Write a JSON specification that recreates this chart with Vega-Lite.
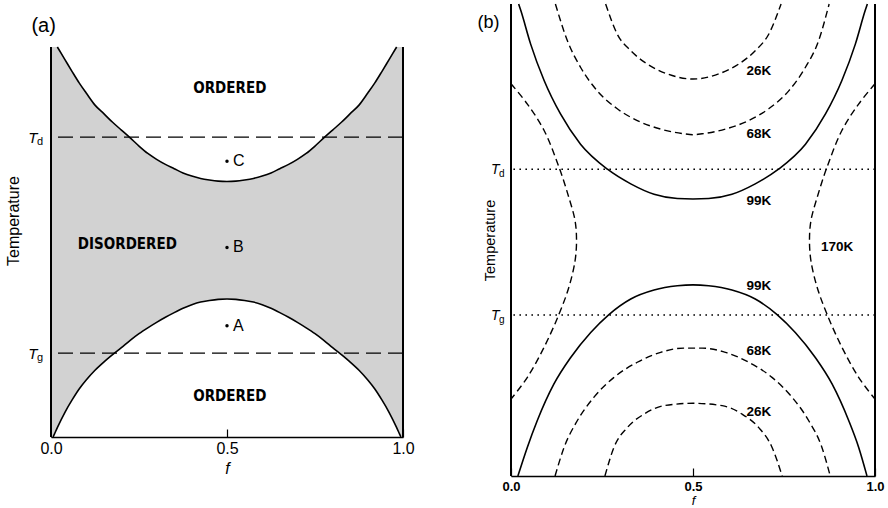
{
  "$schema": "https://vega.github.io/schema/vega-lite/v6.json",
  "padding": {"left": 5, "top": 0, "right": 0, "bottom": 0},
  "bounds": "flush",
  "spacing": 108,
  "config": {
    "view": {"stroke": null},
    "font": "Liberation Sans",
    "axis": {"labelFont": "Liberation Sans", "titleFont": "Liberation Sans", "labelColor": "#000", "titleColor": "#000", "domainColor": "#000", "tickColor": "#000", "grid": false, "titleFontWeight": "normal"}
  },
  "datasets": {
    "shadeA": [
      {"f":0,"lo":0,"hi":1},{"f":0.01,"lo":0.008,"hi":1},{"f":0.018,"lo":0.024,"hi":1},{"f":0.04,"lo":0.064,"hi":0.967},{"f":0.06,"lo":0.095,"hi":0.937},{"f":0.08,"lo":0.123,"hi":0.908},{"f":0.1,"lo":0.146,"hi":0.882},{"f":0.125,"lo":0.171,"hi":0.851},{"f":0.15,"lo":0.192,"hi":0.829},{"f":0.175,"lo":0.211,"hi":0.807},{"f":0.2,"lo":0.229,"hi":0.787},{"f":0.225,"lo":0.248,"hi":0.767},{"f":0.25,"lo":0.265,"hi":0.746},{"f":0.275,"lo":0.28,"hi":0.727},{"f":0.3,"lo":0.294,"hi":0.712},{"f":0.325,"lo":0.307,"hi":0.699},{"f":0.35,"lo":0.319,"hi":0.688},{"f":0.375,"lo":0.33,"hi":0.677},{"f":0.4,"lo":0.339,"hi":0.669},{"f":0.425,"lo":0.346,"hi":0.663},{"f":0.45,"lo":0.35,"hi":0.659},{"f":0.475,"lo":0.353,"hi":0.656},{"f":0.5,"lo":0.354,"hi":0.655},
      {"f":0.525,"lo":0.353,"hi":0.656},{"f":0.55,"lo":0.35,"hi":0.659},{"f":0.575,"lo":0.346,"hi":0.663},{"f":0.6,"lo":0.339,"hi":0.669},{"f":0.625,"lo":0.33,"hi":0.677},{"f":0.65,"lo":0.319,"hi":0.688},{"f":0.675,"lo":0.307,"hi":0.699},{"f":0.7,"lo":0.294,"hi":0.712},{"f":0.725,"lo":0.28,"hi":0.727},{"f":0.75,"lo":0.265,"hi":0.746},{"f":0.775,"lo":0.248,"hi":0.767},{"f":0.8,"lo":0.229,"hi":0.787},{"f":0.825,"lo":0.211,"hi":0.807},{"f":0.85,"lo":0.192,"hi":0.829},{"f":0.875,"lo":0.171,"hi":0.851},{"f":0.9,"lo":0.146,"hi":0.882},{"f":0.92,"lo":0.123,"hi":0.908},{"f":0.94,"lo":0.095,"hi":0.937},{"f":0.96,"lo":0.064,"hi":0.967},{"f":0.982,"lo":0.024,"hi":1},{"f":0.99,"lo":0.008,"hi":1},{"f":1,"lo":0,"hi":1}
    ],
    "curvesA": [
      {"c":"lower","f":0.006,"T":0},{"c":"lower","f":0.01,"T":0.008},{"c":"lower","f":0.018,"T":0.024},{"c":"lower","f":0.04,"T":0.064},{"c":"lower","f":0.06,"T":0.095},{"c":"lower","f":0.08,"T":0.123},{"c":"lower","f":0.1,"T":0.146},{"c":"lower","f":0.125,"T":0.171},{"c":"lower","f":0.15,"T":0.192},{"c":"lower","f":0.175,"T":0.211},{"c":"lower","f":0.2,"T":0.229},{"c":"lower","f":0.225,"T":0.248},{"c":"lower","f":0.25,"T":0.265},{"c":"lower","f":0.275,"T":0.28},{"c":"lower","f":0.3,"T":0.294},{"c":"lower","f":0.325,"T":0.307},{"c":"lower","f":0.35,"T":0.319},{"c":"lower","f":0.375,"T":0.33},{"c":"lower","f":0.4,"T":0.339},{"c":"lower","f":0.425,"T":0.346},{"c":"lower","f":0.45,"T":0.35},{"c":"lower","f":0.475,"T":0.353},{"c":"lower","f":0.5,"T":0.354},
      {"c":"lower","f":0.525,"T":0.353},{"c":"lower","f":0.55,"T":0.35},{"c":"lower","f":0.575,"T":0.346},{"c":"lower","f":0.6,"T":0.339},{"c":"lower","f":0.625,"T":0.33},{"c":"lower","f":0.65,"T":0.319},{"c":"lower","f":0.675,"T":0.307},{"c":"lower","f":0.7,"T":0.294},{"c":"lower","f":0.725,"T":0.28},{"c":"lower","f":0.75,"T":0.265},{"c":"lower","f":0.775,"T":0.248},{"c":"lower","f":0.8,"T":0.229},{"c":"lower","f":0.825,"T":0.211},{"c":"lower","f":0.85,"T":0.192},{"c":"lower","f":0.875,"T":0.171},{"c":"lower","f":0.9,"T":0.146},{"c":"lower","f":0.92,"T":0.123},{"c":"lower","f":0.94,"T":0.095},{"c":"lower","f":0.96,"T":0.064},{"c":"lower","f":0.982,"T":0.024},{"c":"lower","f":0.99,"T":0.008},{"c":"lower","f":0.994,"T":0},
      {"c":"upper","f":0.018,"T":1},{"c":"upper","f":0.04,"T":0.967},{"c":"upper","f":0.06,"T":0.937},{"c":"upper","f":0.08,"T":0.908},{"c":"upper","f":0.1,"T":0.882},{"c":"upper","f":0.125,"T":0.851},{"c":"upper","f":0.15,"T":0.829},{"c":"upper","f":0.175,"T":0.807},{"c":"upper","f":0.2,"T":0.787},{"c":"upper","f":0.225,"T":0.767},{"c":"upper","f":0.25,"T":0.746},{"c":"upper","f":0.275,"T":0.727},{"c":"upper","f":0.3,"T":0.712},{"c":"upper","f":0.325,"T":0.699},{"c":"upper","f":0.35,"T":0.688},{"c":"upper","f":0.375,"T":0.677},{"c":"upper","f":0.4,"T":0.669},{"c":"upper","f":0.425,"T":0.663},{"c":"upper","f":0.45,"T":0.659},{"c":"upper","f":0.475,"T":0.656},{"c":"upper","f":0.5,"T":0.655},
      {"c":"upper","f":0.525,"T":0.656},{"c":"upper","f":0.55,"T":0.659},{"c":"upper","f":0.575,"T":0.663},{"c":"upper","f":0.6,"T":0.669},{"c":"upper","f":0.625,"T":0.677},{"c":"upper","f":0.65,"T":0.688},{"c":"upper","f":0.675,"T":0.699},{"c":"upper","f":0.7,"T":0.712},{"c":"upper","f":0.725,"T":0.727},{"c":"upper","f":0.75,"T":0.746},{"c":"upper","f":0.775,"T":0.767},{"c":"upper","f":0.8,"T":0.787},{"c":"upper","f":0.825,"T":0.807},{"c":"upper","f":0.85,"T":0.829},{"c":"upper","f":0.875,"T":0.851},{"c":"upper","f":0.9,"T":0.882},{"c":"upper","f":0.92,"T":0.908},{"c":"upper","f":0.94,"T":0.937},{"c":"upper","f":0.96,"T":0.967},{"c":"upper","f":0.982,"T":1}
    ],
    "solidB": [
      {"c":"u99","f":0.021,"T":1},{"c":"u99","f":0.027,"T":0.986},{"c":"u99","f":0.054,"T":0.915},{"c":"u99","f":0.091,"T":0.838},{"c":"u99","f":0.136,"T":0.767},{"c":"u99","f":0.191,"T":0.703},{"c":"u99","f":0.265,"T":0.65},{"c":"u99","f":0.329,"T":0.619},{"c":"u99","f":0.393,"T":0.597},{"c":"u99","f":0.457,"T":0.588},{"c":"u99","f":0.5,"T":0.587},{"c":"u99","f":0.543,"T":0.588},{"c":"u99","f":0.607,"T":0.597},{"c":"u99","f":0.671,"T":0.619},{"c":"u99","f":0.735,"T":0.65},{"c":"u99","f":0.809,"T":0.703},{"c":"u99","f":0.864,"T":0.767},{"c":"u99","f":0.909,"T":0.838},{"c":"u99","f":0.946,"T":0.915},{"c":"u99","f":0.973,"T":0.986},{"c":"u99","f":0.979,"T":1},
      {"c":"l99","f":0.019,"T":0},{"c":"l99","f":0.045,"T":0.061},{"c":"l99","f":0.072,"T":0.117},{"c":"l99","f":0.118,"T":0.195},{"c":"l99","f":0.164,"T":0.251},{"c":"l99","f":0.219,"T":0.304},{"c":"l99","f":0.269,"T":0.342},{"c":"l99","f":0.329,"T":0.375},{"c":"l99","f":0.393,"T":0.394},{"c":"l99","f":0.457,"T":0.403},{"c":"l99","f":0.5,"T":0.405},{"c":"l99","f":0.543,"T":0.403},{"c":"l99","f":0.607,"T":0.394},{"c":"l99","f":0.671,"T":0.375},{"c":"l99","f":0.731,"T":0.342},{"c":"l99","f":0.781,"T":0.304},{"c":"l99","f":0.836,"T":0.251},{"c":"l99","f":0.882,"T":0.195},{"c":"l99","f":0.928,"T":0.117},{"c":"l99","f":0.955,"T":0.061},{"c":"l99","f":0.978,"T":0}
    ],
    "dashB": [
      {"c":"u68","f":0.122,"T":1},{"c":"u68","f":0.155,"T":0.922},{"c":"u68","f":0.191,"T":0.866},{"c":"u68","f":0.237,"T":0.816},{"c":"u68","f":0.292,"T":0.778},{"c":"u68","f":0.347,"T":0.753},{"c":"u68","f":0.411,"T":0.735},{"c":"u68","f":0.475,"T":0.725},{"c":"u68","f":0.5,"T":0.723},{"c":"u68","f":0.525,"T":0.725},{"c":"u68","f":0.589,"T":0.735},{"c":"u68","f":0.653,"T":0.753},{"c":"u68","f":0.708,"T":0.778},{"c":"u68","f":0.763,"T":0.816},{"c":"u68","f":0.809,"T":0.866},{"c":"u68","f":0.845,"T":0.922},{"c":"u68","f":0.874,"T":1},
      {"c":"u26","f":0.26,"T":1},{"c":"u26","f":0.292,"T":0.936},{"c":"u26","f":0.329,"T":0.901},{"c":"u26","f":0.374,"T":0.873},{"c":"u26","f":0.429,"T":0.852},{"c":"u26","f":0.5,"T":0.841},{"c":"u26","f":0.571,"T":0.852},{"c":"u26","f":0.626,"T":0.873},{"c":"u26","f":0.671,"T":0.901},{"c":"u26","f":0.708,"T":0.936},{"c":"u26","f":0.742,"T":1},
      {"c":"l68","f":0.121,"T":0},{"c":"l68","f":0.146,"T":0.061},{"c":"l68","f":0.182,"T":0.117},{"c":"l68","f":0.228,"T":0.167},{"c":"l68","f":0.283,"T":0.209},{"c":"l68","f":0.347,"T":0.241},{"c":"l68","f":0.411,"T":0.262},{"c":"l68","f":0.475,"T":0.271},{"c":"l68","f":0.5,"T":0.271},{"c":"l68","f":0.525,"T":0.271},{"c":"l68","f":0.589,"T":0.262},{"c":"l68","f":0.653,"T":0.241},{"c":"l68","f":0.717,"T":0.209},{"c":"l68","f":0.772,"T":0.167},{"c":"l68","f":0.818,"T":0.117},{"c":"l68","f":0.854,"T":0.061},{"c":"l68","f":0.877,"T":0},
      {"c":"l26","f":0.258,"T":0},{"c":"l26","f":0.283,"T":0.061},{"c":"l26","f":0.32,"T":0.103},{"c":"l26","f":0.365,"T":0.131},{"c":"l26","f":0.42,"T":0.149},{"c":"l26","f":0.5,"T":0.154},{"c":"l26","f":0.58,"T":0.149},{"c":"l26","f":0.635,"T":0.131},{"c":"l26","f":0.68,"T":0.103},{"c":"l26","f":0.717,"T":0.061},{"c":"l26","f":0.745,"T":0}
    ],
    "iso170": [
      {"c":"L","i":0,"f":0,"T":0.831},{"c":"L","i":1,"f":0.045,"T":0.788},{"c":"L","i":2,"f":0.091,"T":0.732},{"c":"L","i":3,"f":0.132,"T":0.654},{"c":"L","i":4,"f":0.159,"T":0.59},{"c":"L","i":5,"f":0.176,"T":0.541},{"c":"L","i":6,"f":0.18,"T":0.499},{"c":"L","i":7,"f":0.176,"T":0.456},{"c":"L","i":8,"f":0.159,"T":0.4},{"c":"L","i":9,"f":0.132,"T":0.343},{"c":"L","i":10,"f":0.091,"T":0.273},{"c":"L","i":11,"f":0.045,"T":0.209},{"c":"L","i":12,"f":0,"T":0.163},
      {"c":"R","i":0,"f":1,"T":0.831},{"c":"R","i":1,"f":0.955,"T":0.788},{"c":"R","i":2,"f":0.909,"T":0.732},{"c":"R","i":3,"f":0.868,"T":0.654},{"c":"R","i":4,"f":0.841,"T":0.59},{"c":"R","i":5,"f":0.824,"T":0.541},{"c":"R","i":6,"f":0.82,"T":0.499},{"c":"R","i":7,"f":0.824,"T":0.456},{"c":"R","i":8,"f":0.841,"T":0.4},{"c":"R","i":9,"f":0.868,"T":0.343},{"c":"R","i":10,"f":0.909,"T":0.273},{"c":"R","i":11,"f":0.955,"T":0.209},{"c":"R","i":12,"f":1,"T":0.163}
    ]
  },
  "hconcat": [
    {
      "width": 352,
      "height": 433,
      "layer": [
        {
          "data": {"name": "shadeA"},
          "mark": {"type": "area", "color": "#d2d2d2", "interpolate": "monotone"},
          "encoding": {
            "x": {"field": "f", "type": "quantitative", "scale": {"domain": [0, 1], "nice": false, "zero": false},
              "axis": {"title": "f", "values": [0, 0.5, 1], "format": ".1f", "labelFontSize": 16, "labelFlush": false, "domainWidth": 1.6, "tickSize": -8, "tickWidth": 1.2, "labelPadding": 11, "titleFontStyle": "italic", "titleFontSize": 16, "titlePadding": 4}},
            "y": {"field": "lo", "type": "quantitative", "scale": {"domain": [0, 1.11026], "nice": false, "zero": false},
              "axis": {"title": "Temperature", "values": [0.215, 0.769], "labelExpr": "'T'", "labelFontStyle": "italic", "labelFontSize": 15, "ticks": false, "domain": false, "labelPadding": 14, "titleFontSize": 16, "titlePadding": 6}},
            "y2": {"field": "hi"}
          }
        },
        {
          "data": {"name": "curvesA"},
          "mark": {"type": "line", "color": "#000", "strokeWidth": 1.6, "interpolate": "monotone"},
          "encoding": {
            "x": {"field": "f", "type": "quantitative"},
            "y": {"field": "T", "type": "quantitative"},
            "detail": {"field": "c"}
          }
        },
        {
          "data": {"values": [{"T": 0.769}, {"T": 0.215}]},
          "mark": {"type": "rule", "color": "#000", "strokeWidth": 1.3, "strokeDash": [15, 7]},
          "encoding": {"y": {"field": "T", "type": "quantitative"}}
        },
        {
          "data": {"values": [{"f": 0}, {"f": 1}]},
          "mark": {"type": "rule", "color": "#000", "strokeWidth": 2},
          "encoding": {
            "x": {"field": "f", "type": "quantitative"},
            "y": {"datum": 0},
            "y2": {"datum": 1}
          }
        },
        {
          "data": {"values": [{"f": 0.5, "T": 0.707, "lab": "C"}, {"f": 0.5, "T": 0.486, "lab": "B"}, {"f": 0.5, "T": 0.285, "lab": "A"}]},
          "layer": [
            {"mark": {"type": "point", "filled": true, "color": "#000", "size": 12, "opacity": 1},
             "encoding": {"x": {"field": "f", "type": "quantitative"}, "y": {"field": "T", "type": "quantitative"}}},
            {"mark": {"type": "text", "align": "left", "baseline": "middle", "dx": 6, "fontSize": 16, "color": "#000"},
             "encoding": {"x": {"field": "f", "type": "quantitative"}, "y": {"field": "T", "type": "quantitative"}, "text": {"field": "lab"}}}
          ]
        },
        {
          "data": {"values": [{"f": 0.508, "T": 0.896, "lab": "ORDERED"}, {"f": 0.508, "T": 0.106, "lab": "ORDERED"}, {"f": 0.217, "T": 0.495, "lab": "DISORDERED"}]},
          "mark": {"type": "text", "align": "center", "baseline": "middle", "font": "DejaVu Sans Condensed", "fontWeight": "bold", "fontSize": 15, "color": "#000"},
          "encoding": {"x": {"field": "f", "type": "quantitative"}, "y": {"field": "T", "type": "quantitative"}, "text": {"field": "lab"}}
        },
        {
          "data": {"values": [{"f": -0.021, "T": 1.055, "lab": "(a)"}]},
          "mark": {"type": "text", "align": "center", "baseline": "middle", "fontSize": 20, "color": "#000"},
          "encoding": {"x": {"field": "f", "type": "quantitative"}, "y": {"field": "T", "type": "quantitative"}, "text": {"field": "lab"}}
        },
        {
          "data": {"values": [{"f": 0, "T": 0.769, "lab": "d"}, {"f": 0, "T": 0.215, "lab": "g"}]},
          "mark": {"type": "text", "align": "left", "baseline": "middle", "dx": -14, "dy": 5, "fontSize": 11, "color": "#000"},
          "encoding": {"x": {"field": "f", "type": "quantitative"}, "y": {"field": "T", "type": "quantitative"}, "text": {"field": "lab"}}
        }
      ]
    },
    {
      "width": 364,
      "height": 472,
      "layer": [
        {
          "data": {"name": "solidB"},
          "mark": {"type": "line", "color": "#000", "strokeWidth": 1.6, "interpolate": "monotone"},
          "encoding": {
            "x": {"field": "f", "type": "quantitative", "scale": {"domain": [0, 1], "nice": false, "zero": false},
              "axis": {"title": "f", "values": [0, 0.5, 1], "format": ".1f", "labelFontSize": 13, "labelFontWeight": "bold", "labelFlush": false, "domainWidth": 1.6, "tickSize": -8, "tickWidth": 1.2, "labelPadding": 12, "titleFontStyle": "italic", "titleFontSize": 13, "titlePadding": 1}},
            "y": {"field": "T", "type": "quantitative", "scale": {"domain": [0, 1], "nice": false, "zero": false},
              "axis": {"title": "Temperature", "values": [0.341, 0.65], "labelExpr": "'T'", "labelFontStyle": "italic", "labelFontSize": 14, "ticks": false, "domain": false, "labelPadding": 12, "titleFontSize": 14.5, "titlePadding": -7}},
            "detail": {"field": "c"}
          }
        },
        {
          "data": {"name": "dashB"},
          "mark": {"type": "line", "color": "#000", "strokeWidth": 1.4, "strokeDash": [7, 4], "interpolate": "monotone"},
          "encoding": {
            "x": {"field": "f", "type": "quantitative"},
            "y": {"field": "T", "type": "quantitative"},
            "detail": {"field": "c"}
          }
        },
        {
          "data": {"name": "iso170"},
          "mark": {"type": "line", "color": "#000", "strokeWidth": 1.4, "strokeDash": [7, 4], "interpolate": "catmull-rom"},
          "encoding": {
            "x": {"field": "f", "type": "quantitative"},
            "y": {"field": "T", "type": "quantitative"},
            "detail": {"field": "c"},
            "order": {"field": "i"}
          }
        },
        {
          "data": {"values": [{"T": 0.65}, {"T": 0.341}]},
          "mark": {"type": "rule", "color": "#000", "strokeWidth": 1.6, "strokeDash": [1.6, 4.4]},
          "encoding": {"y": {"field": "T", "type": "quantitative"}}
        },
        {
          "data": {"values": [{"f": 0}, {"f": 1}]},
          "mark": {"type": "rule", "color": "#000", "strokeWidth": 2},
          "encoding": {
            "x": {"field": "f", "type": "quantitative"},
            "y": {"datum": 0},
            "y2": {"datum": 1}
          }
        },
        {
          "data": {"values": [
            {"f": 0.681, "T": 0.858, "lab": "26K"},
            {"f": 0.681, "T": 0.725, "lab": "68K"},
            {"f": 0.681, "T": 0.583, "lab": "99K"},
            {"f": 0.896, "T": 0.485, "lab": "170K"},
            {"f": 0.681, "T": 0.403, "lab": "99K"},
            {"f": 0.681, "T": 0.265, "lab": "68K"},
            {"f": 0.681, "T": 0.136, "lab": "26K"}
          ]},
          "mark": {"type": "text", "align": "center", "baseline": "middle", "fontWeight": "bold", "fontSize": 13.5, "color": "#000"},
          "encoding": {"x": {"field": "f", "type": "quantitative"}, "y": {"field": "T", "type": "quantitative"}, "text": {"field": "lab"}}
        },
        {
          "data": {"values": [{"f": -0.062, "T": 0.959, "lab": "(b)"}]},
          "mark": {"type": "text", "align": "center", "baseline": "middle", "fontSize": 18, "color": "#000"},
          "encoding": {"x": {"field": "f", "type": "quantitative"}, "y": {"field": "T", "type": "quantitative"}, "text": {"field": "lab"}}
        },
        {
          "data": {"values": [{"f": 0, "T": 0.65, "lab": "d"}, {"f": 0, "T": 0.341, "lab": "g"}]},
          "mark": {"type": "text", "align": "left", "baseline": "middle", "dx": -12, "dy": 5, "fontSize": 10, "color": "#000"},
          "encoding": {"x": {"field": "f", "type": "quantitative"}, "y": {"field": "T", "type": "quantitative"}, "text": {"field": "lab"}}
        }
      ]
    }
  ]
}
